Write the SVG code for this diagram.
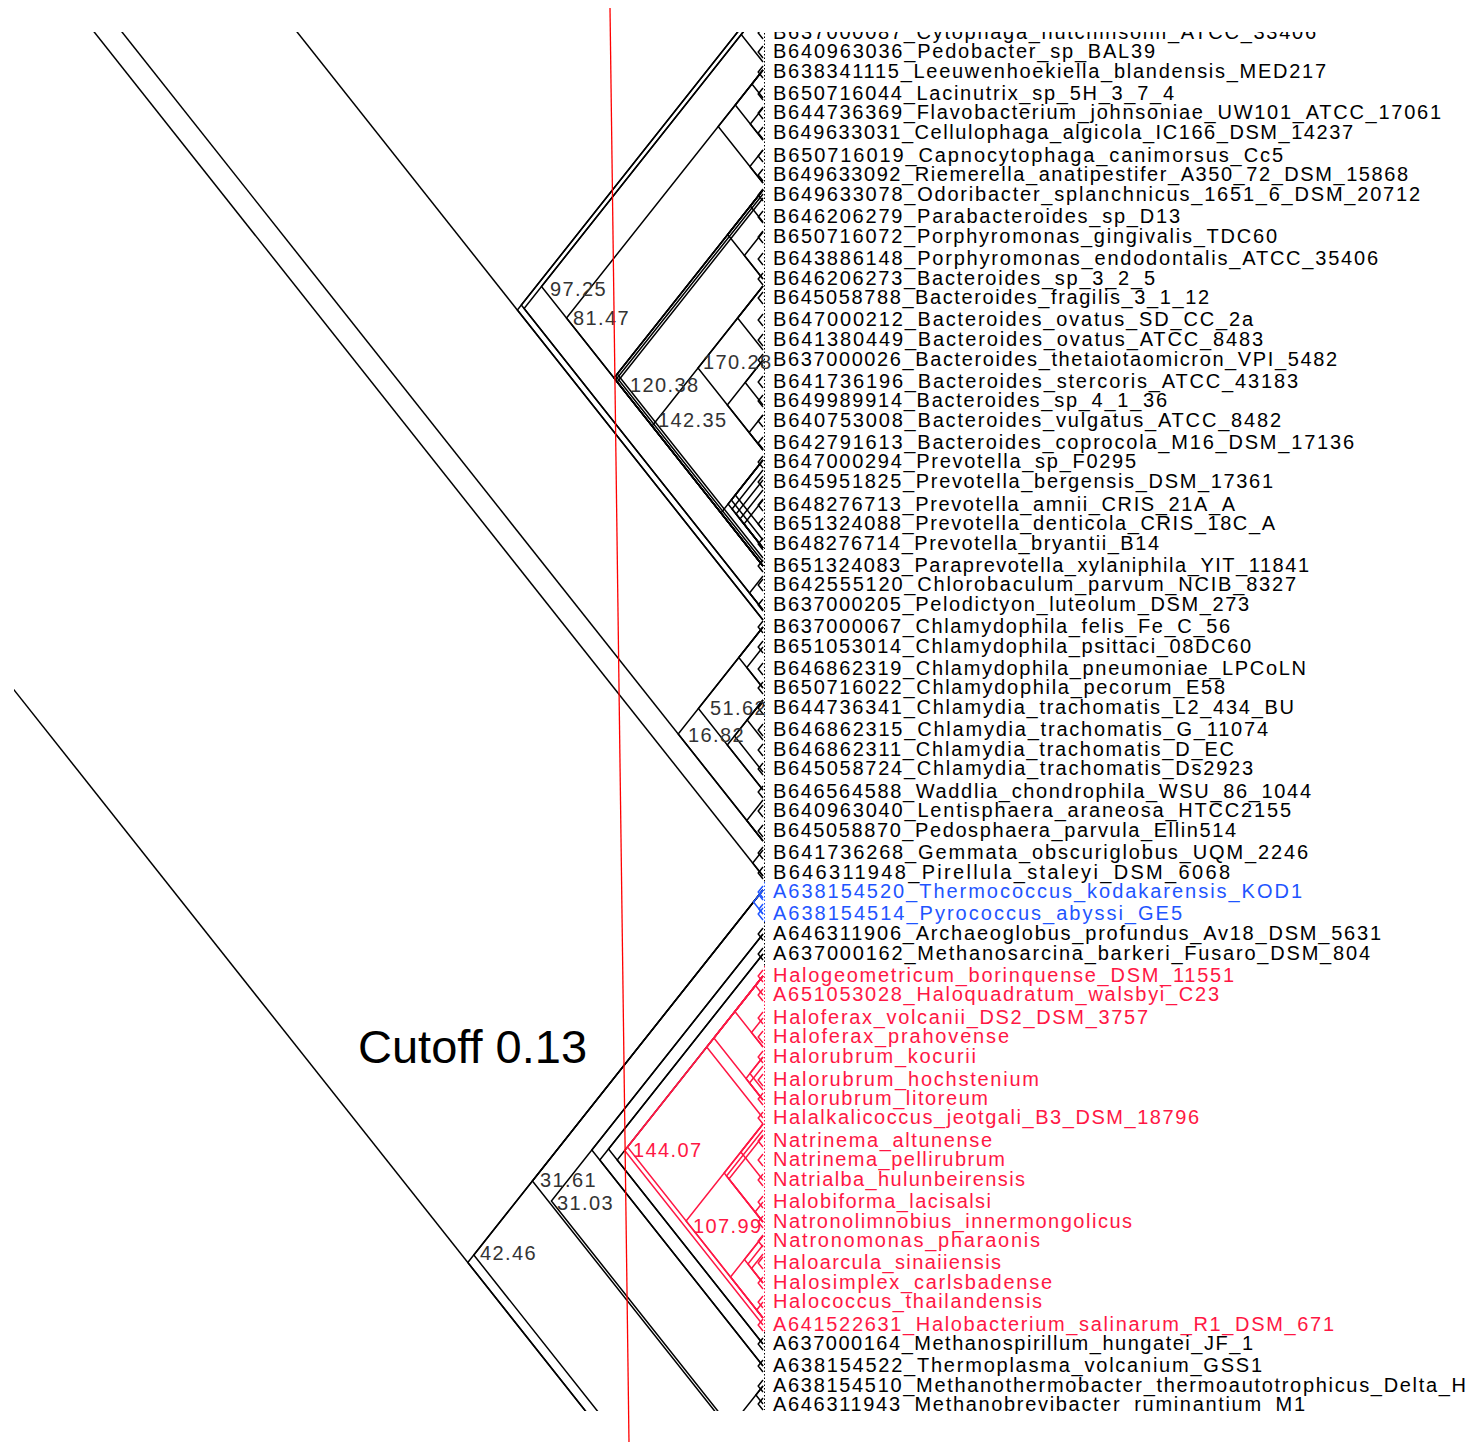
<svg xmlns="http://www.w3.org/2000/svg" width="1474" height="1442" viewBox="0 0 1474 1442">
<defs>
<clipPath id="clip"><rect x="14" y="32" width="1460" height="1379"/></clipPath>
<style>
.e{fill:none;stroke:#000;stroke-width:1.5;stroke-linejoin:miter}
.r{fill:none;stroke:#ff1744;stroke-width:1.5}
.b{fill:none;stroke:#1f55ff;stroke-width:1.5}
.dk{fill:none;stroke:#000;stroke-width:1;stroke-dasharray:1.5 2}
.dr{fill:none;stroke:#ff1744;stroke-width:1;stroke-dasharray:1.5 2}
.db{fill:none;stroke:#1f55ff;stroke-width:1;stroke-dasharray:1.5 2}
text{font-family:"Liberation Sans",Arial,Helvetica,sans-serif}
.lb{font-size:20px;fill:#000}
.lr{font-size:20px;fill:#ff1744}
.lu{font-size:20px;fill:#1f55ff}
.nv{font-size:20px;fill:#333;letter-spacing:1.4px}
.nr{font-size:20px;fill:#ff1744;letter-spacing:1.4px}
</style>
</defs>
<rect width="1474" height="1442" fill="#fff"/>
<g clip-path="url(#clip)">
<g id="connectors">
<g id="edges-black">
<polyline class="e" points="-10.4,-100 763,876"/>
<polyline class="e" points="17.4,-100 763,841"/>
<polyline class="e" points="192.5,-100 763,620"/>
<polyline class="e" points="-100,546 763,1635"/>
<polyline class="e" points="763,0 517.4,310 763,620"/>
<polyline class="e" points="763,0 521.3,305 763,610"/>
<polyline class="e" points="763,7 524.1,308.5 763,610"/>
<polyline class="e" points="763,7 541.5,286.5 763,566"/>
<polyline class="e" points="763,7 741.2,34.5 763,62"/>
<polyline class="e" points="763,70 566.5,318 763,566"/>
<polyline class="e" points="763,70 718.2,126.5 763,183"/>
<polyline class="e" points="763,70 735.3,105 763,140"/>
<polyline class="e" points="763,70 751.9,84 763,98"/>
<polyline class="e" points="763,108 750.3,124 763,140"/>
<polyline class="e" points="763,150 749.9,166.5 763,183"/>
<polyline class="e" points="763,190 614,378 763,566"/>
<polyline class="e" points="763,194 615.6,380 763,566"/>
<polyline class="e" points="763,198 617.2,382 763,566"/>
<polyline class="e" points="763,190 615.6,376 763,562"/>
<polyline class="e" points="763,190 617.2,374 763,558"/>
<polyline class="e" points="763,190 727.7,234.5 763,279"/>
<polyline class="e" points="763,190 750.3,206 763,222"/>
<polyline class="e" points="763,232 744.4,255.5 763,279"/>
<polyline class="e" points="763,286 652.1,426 763,566"/>
<polyline class="e" points="763,286 698,368 763,450"/>
<polyline class="e" points="763,286 737.6,318 763,350"/>
<polyline class="e" points="763,360 727.3,405 763,450"/>
<polyline class="e" points="763,360 745.2,382.5 763,405"/>
<polyline class="e" points="763,415 749.1,432.5 763,450"/>
<polyline class="e" points="763,460 721,513 763,566"/>
<polyline class="e" points="763,460 728.1,504 763,548"/>
<polyline class="e" points="763,470 732.1,509 763,548"/>
<polyline class="e" points="763,480 736.1,514 763,548"/>
<polyline class="e" points="763,490 740,519 763,548"/>
<polyline class="e" points="763,500 744,524 763,548"/>
<polyline class="e" points="763,460 731.3,500 763,540"/>
<polyline class="e" points="763,460 735.3,495 763,530"/>
<polyline class="e" points="763,576 749.5,593 763,610"/>
<polyline class="e" points="763,627 678.2,734 763,841"/>
<polyline class="e" points="763,627 698.4,708.5 763,790"/>
<polyline class="e" points="763,627 738.8,657.5 763,688"/>
<polyline class="e" points="763,647 746.8,667.5 763,688"/>
<polyline class="e" points="763,700 727.3,745 763,790"/>
<polyline class="e" points="763,700 734.5,736 763,772"/>
<polyline class="e" points="763,700 747.2,720 763,740"/>
<polyline class="e" points="763,800 746.8,820.5 763,841"/>
<polyline class="e" points="763,850 752.7,863 763,876"/>
<polyline class="e" points="763,890 467.8,1262.5 763,1635"/>
<polyline class="e" points="763,890 473.8,1255 763,1620"/>
<polyline class="e" points="763,890 532.4,1181 763,1472"/>
<polyline class="e" points="763,934 551.4,1201 763,1468"/>
<polyline class="e" points="763,934 591.8,1150 763,1366"/>
<polyline class="e" points="763,954 599.8,1160 763,1366"/>
<polyline class="e" points="763,954 608.5,1149 763,1344"/>
<polyline class="e" points="763,976 617.2,1160 763,1344"/>
<polyline class="e" points="763,1386 730.5,1427 763,1468"/>
<polyline class="e" points="763,1386 755.9,1395 763,1404"/>
<path class="e" d="M763,27L758.2,33L763,39M763,46L758.2,52L763,58M763,66L758.2,72L763,78M763,88L758.2,94L763,100M763,107L758.2,113L763,119M763,127L758.2,133L763,139M763,150L758.2,156L763,162M763,169L758.2,175L763,181M763,189L758.2,195L763,201M763,211L758.2,217L763,223M763,231L758.2,237L763,243M763,253L758.2,259L763,265M763,273L758.2,279L763,285M763,292L758.2,298L763,304M763,314L758.2,320L763,326M763,334L758.2,340L763,346M763,354L758.2,360L763,366M763,376L758.2,382L763,388M763,395L758.2,401L763,407M763,415L758.2,421L763,427M763,437L758.2,443L763,449M763,456L758.2,462L763,468M763,476L758.2,482L763,488M763,499L758.2,505L763,511M763,518L758.2,524L763,530M763,538L758.2,544L763,550M763,560L758.2,566L763,572M763,579L758.2,585L763,591M763,599L758.2,605L763,611M763,621L758.2,627L763,633M763,641L758.2,647L763,653M763,663L758.2,669L763,675M763,682L758.2,688L763,694M763,702L758.2,708L763,714M763,724L758.2,730L763,736M763,744L758.2,750L763,756M763,763L758.2,769L763,775M763,786L758.2,792L763,798M763,805L758.2,811L763,817M763,825L758.2,831L763,837M763,847L758.2,853L763,859M763,867L758.2,873L763,879M763,928L758.2,934L763,940M763,948L758.2,954L763,960M763,1338L758.2,1344L763,1350M763,1360L758.2,1366L763,1372M763,1380L758.2,1386L763,1392M763,1398L758.2,1404L763,1410"/>
<path class="dk" d="M764.5,33V882M764.5,922V966M764.5,1332V1410"/>
</g>
<g id="edges-red">
<polyline class="r" points="763,976 624.7,1150.5 763,1325"/>
<polyline class="r" points="763,976 627.5,1147 763,1318"/>
<polyline class="r" points="763,976 706.7,1047 763,1118"/>
<polyline class="r" points="763,976 713.9,1038 763,1100"/>
<polyline class="r" points="763,976 734.9,1011.5 763,1047"/>
<polyline class="r" points="763,976 755.5,985.5 763,995"/>
<polyline class="r" points="763,1018 751.5,1032.5 763,1047"/>
<polyline class="r" points="763,1057 746,1078.5 763,1100"/>
<polyline class="r" points="763,1057 749.9,1073.5 763,1090"/>
<polyline class="r" points="763,1066 749.5,1083 763,1100"/>
<polyline class="r" points="763,1124 686.1,1221 763,1318"/>
<polyline class="r" points="763,1124 724.2,1173 763,1222"/>
<polyline class="r" points="763,1130 726.5,1176 763,1222"/>
<polyline class="r" points="763,1136 728.9,1179 763,1222"/>
<polyline class="r" points="763,1124 740.8,1152 763,1180"/>
<polyline class="r" points="763,1202 755.1,1212 763,1222"/>
<polyline class="r" points="763,1236 730.5,1277 763,1318"/>
<polyline class="r" points="763,1236 744.4,1259.5 763,1283"/>
<polyline class="r" points="763,1245 748,1264 763,1283"/>
<polyline class="r" points="763,1254 751.5,1268.5 763,1283"/>
<polyline class="r" points="763,1302 756.7,1310 763,1318"/>
<path class="r" d="M763,970L758.2,976L763,982M763,989L758.2,995L763,1001M763,1012L758.2,1018L763,1024M763,1031L758.2,1037L763,1043M763,1051L758.2,1057L763,1063M763,1074L758.2,1080L763,1086M763,1093L758.2,1099L763,1105M763,1112L758.2,1118L763,1124M763,1135L758.2,1141L763,1147M763,1154L758.2,1160L763,1166M763,1174L758.2,1180L763,1186M763,1196L758.2,1202L763,1208M763,1216L758.2,1222L763,1228M763,1235L758.2,1241L763,1247M763,1257L758.2,1263L763,1269M763,1277L758.2,1283L763,1289M763,1296L758.2,1302L763,1308M763,1319L758.2,1325L763,1331"/>
<path class="dr" d="M764.5,966V1332"/>
</g>
<g id="edges-blue">
<polyline class="b" points="763,890 753.5,902 763,914"/>
<polyline class="b" points="763,890 759,895 763,900"/>
<polyline class="b" points="763,904 759,909 763,914"/>
<path class="b" d="M763,886L758.2,892L763,898M763,908L758.2,914L763,920"/>
<path class="db" d="M764.5,882V922"/>
</g>
</g>
<g id="leaves">
<g id="leaf01"><text class="lb" x="773" y="39" textLength="543">B637000087_Cytophaga_hutchinsonii_ATCC_33406</text></g>
<g id="leaf02"><text class="lb" x="773" y="58" textLength="382">B640963036_Pedobacter_sp_BAL39</text></g>
<g id="leaf03"><text class="lb" x="773" y="78" textLength="553">B638341115_Leeuwenhoekiella_blandensis_MED217</text></g>
<g id="leaf04"><text class="lb" x="773" y="100" textLength="401">B650716044_Lacinutrix_sp_5H_3_7_4</text></g>
<g id="leaf05"><text class="lb" x="773" y="119" textLength="668">B644736369_Flavobacterium_johnsoniae_UW101_ATCC_17061</text></g>
<g id="leaf06"><text class="lb" x="773" y="139" textLength="580">B649633031_Cellulophaga_algicola_IC166_DSM_14237</text></g>
<g id="leaf07"><text class="lb" x="773" y="162" textLength="510">B650716019_Capnocytophaga_canimorsus_Cc5</text></g>
<g id="leaf08"><text class="lb" x="773" y="181" textLength="635">B649633092_Riemerella_anatipestifer_A350_72_DSM_15868</text></g>
<g id="leaf09"><text class="lb" x="773" y="201" textLength="647">B649633078_Odoribacter_splanchnicus_1651_6_DSM_20712</text></g>
<g id="leaf10"><text class="lb" x="773" y="223" textLength="407">B646206279_Parabacteroides_sp_D13</text></g>
<g id="leaf11"><text class="lb" x="773" y="243" textLength="504">B650716072_Porphyromonas_gingivalis_TDC60</text></g>
<g id="leaf12"><text class="lb" x="773" y="265" textLength="605">B643886148_Porphyromonas_endodontalis_ATCC_35406</text></g>
<g id="leaf13"><text class="lb" x="773" y="285" textLength="382">B646206273_Bacteroides_sp_3_2_5</text></g>
<g id="leaf14"><text class="lb" x="773" y="304" textLength="436">B645058788_Bacteroides_fragilis_3_1_12</text></g>
<g id="leaf15"><text class="lb" x="773" y="326" textLength="480">B647000212_Bacteroides_ovatus_SD_CC_2a</text></g>
<g id="leaf16"><text class="lb" x="773" y="346" textLength="490">B641380449_Bacteroides_ovatus_ATCC_8483</text></g>
<g id="leaf17"><text class="lb" x="773" y="366" textLength="564">B637000026_Bacteroides_thetaiotaomicron_VPI_5482</text></g>
<g id="leaf18"><text class="lb" x="773" y="388" textLength="525">B641736196_Bacteroides_stercoris_ATCC_43183</text></g>
<g id="leaf19"><text class="lb" x="773" y="407" textLength="394">B649989914_Bacteroides_sp_4_1_36</text></g>
<g id="leaf20"><text class="lb" x="773" y="427" textLength="508">B640753008_Bacteroides_vulgatus_ATCC_8482</text></g>
<g id="leaf21"><text class="lb" x="773" y="449" textLength="581">B642791613_Bacteroides_coprocola_M16_DSM_17136</text></g>
<g id="leaf22"><text class="lb" x="773" y="468" textLength="363">B647000294_Prevotella_sp_F0295</text></g>
<g id="leaf23"><text class="lb" x="773" y="488" textLength="500">B645951825_Prevotella_bergensis_DSM_17361</text></g>
<g id="leaf24"><text class="lb" x="773" y="511" textLength="462">B648276713_Prevotella_amnii_CRIS_21A_A</text></g>
<g id="leaf25"><text class="lb" x="773" y="530" textLength="502">B651324088_Prevotella_denticola_CRIS_18C_A</text></g>
<g id="leaf26"><text class="lb" x="773" y="550" textLength="386">B648276714_Prevotella_bryantii_B14</text></g>
<g id="leaf27"><text class="lb" x="773" y="572" textLength="536">B651324083_Paraprevotella_xylaniphila_YIT_11841</text></g>
<g id="leaf28"><text class="lb" x="773" y="591" textLength="523">B642555120_Chlorobaculum_parvum_NCIB_8327</text></g>
<g id="leaf29"><text class="lb" x="773" y="611" textLength="476">B637000205_Pelodictyon_luteolum_DSM_273</text></g>
<g id="leaf30"><text class="lb" x="773" y="633" textLength="457">B637000067_Chlamydophila_felis_Fe_C_56</text></g>
<g id="leaf31"><text class="lb" x="773" y="653" textLength="478">B651053014_Chlamydophila_psittaci_08DC60</text></g>
<g id="leaf32"><text class="lb" x="773" y="675" textLength="533">B646862319_Chlamydophila_pneumoniae_LPCoLN</text></g>
<g id="leaf33"><text class="lb" x="773" y="694" textLength="452">B650716022_Chlamydophila_pecorum_E58</text></g>
<g id="leaf34"><text class="lb" x="773" y="714" textLength="521">B644736341_Chlamydia_trachomatis_L2_434_BU</text></g>
<g id="leaf35"><text class="lb" x="773" y="736" textLength="495">B646862315_Chlamydia_trachomatis_G_11074</text></g>
<g id="leaf36"><text class="lb" x="773" y="756" textLength="461">B646862311_Chlamydia_trachomatis_D_EC</text></g>
<g id="leaf37"><text class="lb" x="773" y="775" textLength="480">B645058724_Chlamydia_trachomatis_Ds2923</text></g>
<g id="leaf38"><text class="lb" x="773" y="798" textLength="538">B646564588_Waddlia_chondrophila_WSU_86_1044</text></g>
<g id="leaf39"><text class="lb" x="773" y="817" textLength="518">B640963040_Lentisphaera_araneosa_HTCC2155</text></g>
<g id="leaf40"><text class="lb" x="773" y="837" textLength="463">B645058870_Pedosphaera_parvula_Ellin514</text></g>
<g id="leaf41"><text class="lb" x="773" y="859" textLength="535">B641736268_Gemmata_obscuriglobus_UQM_2246</text></g>
<g id="leaf42"><text class="lb" x="773" y="879" textLength="457">B646311948_Pirellula_staleyi_DSM_6068</text></g>
<g id="leaf43"><text class="lu" x="773" y="898" textLength="529">A638154520_Thermococcus_kodakarensis_KOD1</text></g>
<g id="leaf44"><text class="lu" x="773" y="920" textLength="409">A638154514_Pyrococcus_abyssi_GE5</text></g>
<g id="leaf45"><text class="lb" x="773" y="940" textLength="608">A646311906_Archaeoglobus_profundus_Av18_DSM_5631</text></g>
<g id="leaf46"><text class="lb" x="773" y="960" textLength="597">A637000162_Methanosarcina_barkeri_Fusaro_DSM_804</text></g>
<g id="leaf47"><text class="lr" x="773" y="982" textLength="461">Halogeometricum_borinquense_DSM_11551</text></g>
<g id="leaf48"><text class="lr" x="773" y="1001" textLength="446">A651053028_Haloquadratum_walsbyi_C23</text></g>
<g id="leaf49"><text class="lr" x="773" y="1024" textLength="375">Haloferax_volcanii_DS2_DSM_3757</text></g>
<g id="leaf50"><text class="lr" x="773" y="1043" textLength="236">Haloferax_prahovense</text></g>
<g id="leaf51"><text class="lr" x="773" y="1063" textLength="203">Halorubrum_kocurii</text></g>
<g id="leaf52"><text class="lr" x="773" y="1086" textLength="266">Halorubrum_hochstenium</text></g>
<g id="leaf53"><text class="lr" x="773" y="1105" textLength="215">Halorubrum_litoreum</text></g>
<g id="leaf54"><text class="lr" x="773" y="1124" textLength="426">Halalkalicoccus_jeotgali_B3_DSM_18796</text></g>
<g id="leaf55"><text class="lr" x="773" y="1147" textLength="219">Natrinema_altunense</text></g>
<g id="leaf56"><text class="lr" x="773" y="1166" textLength="232">Natrinema_pellirubrum</text></g>
<g id="leaf57"><text class="lr" x="773" y="1186" textLength="252">Natrialba_hulunbeirensis</text></g>
<g id="leaf58"><text class="lr" x="773" y="1208" textLength="218">Halobiforma_lacisalsi</text></g>
<g id="leaf59"><text class="lr" x="773" y="1228" textLength="359">Natronolimnobius_innermongolicus</text></g>
<g id="leaf60"><text class="lr" x="773" y="1247" textLength="267">Natronomonas_pharaonis</text></g>
<g id="leaf61"><text class="lr" x="773" y="1269" textLength="228">Haloarcula_sinaiiensis</text></g>
<g id="leaf62"><text class="lr" x="773" y="1289" textLength="279">Halosimplex_carlsbadense</text></g>
<g id="leaf63"><text class="lr" x="773" y="1308" textLength="269">Halococcus_thailandensis</text></g>
<g id="leaf64"><text class="lr" x="773" y="1331" textLength="561">A641522631_Halobacterium_salinarum_R1_DSM_671</text></g>
<g id="leaf65"><text class="lb" x="773" y="1350" textLength="480">A637000164_Methanospirillum_hungatei_JF_1</text></g>
<g id="leaf66"><text class="lb" x="773" y="1372" textLength="489">A638154522_Thermoplasma_volcanium_GSS1</text></g>
<g id="leaf67"><text class="lb" x="773" y="1392" textLength="693">A638154510_Methanothermobacter_thermoautotrophicus_Delta_H</text></g>
<g id="leaf68"><text class="lb" x="773" y="1411" textLength="532">A646311943_Methanobrevibacter_ruminantium_M1</text></g>
</g>
<g id="clusters">
<g id="c9725"><text class="nv" x="550" y="296">97.25</text></g>
<g id="c8147"><text class="nv" x="573" y="325">81.47</text></g>
<g id="c12038"><text class="nv" x="630" y="392">120.38</text></g>
<g id="c14235"><text class="nv" x="658" y="427">142.35</text></g>
<g id="c17028"><text class="nv" x="703" y="369">170.28</text></g>
<g id="c5162"><text class="nv" x="710" y="715">51.62</text></g>
<g id="c1682"><text class="nv" x="688" y="742">16.82</text></g>
<g id="c14407"><text class="nr" x="633" y="1157">144.07</text></g>
<g id="c10799"><text class="nr" x="693" y="1233">107.99</text></g>
<g id="c3161"><text class="nv" x="540" y="1187">31.61</text></g>
<g id="c3103"><text class="nv" x="557" y="1210">31.03</text></g>
<g id="c4246"><text class="nv" x="480" y="1260">42.46</text></g>
</g>
</g>
<g id="cutoff">
<line x1="610" y1="8" x2="629" y2="1442" stroke="#ff0000" stroke-width="1.3"/>
<text x="358" y="1063" font-size="47" fill="#000">Cutoff 0.13</text>
</g>
</svg>
